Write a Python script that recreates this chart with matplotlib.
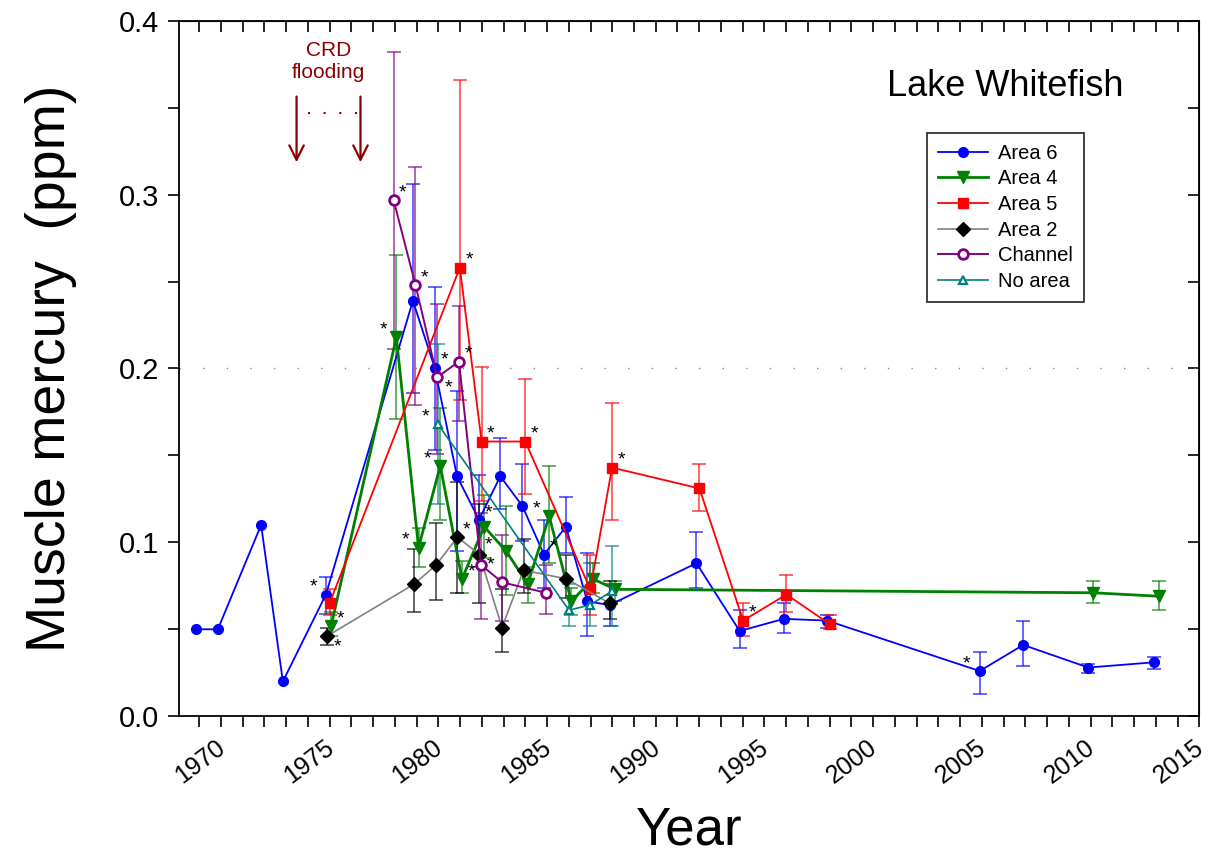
"""Lake Whitefish muscle mercury by area, 1969-2013."""
import numpy as np
import matplotlib
matplotlib.use("Agg")
import matplotlib.pyplot as plt
import matplotlib.transforms as mtransforms
from matplotlib.ticker import MultipleLocator, FormatStrFormatter

plt.rcParams["font.family"] = ["Liberation Sans", "DejaVu Sans"]

# ---- data (year, mean, lower bar end, upper bar end) ----
a6_year = [1968.84, 1969.86, 1971.85, 1972.85, 1974.83, 1978.83, 1979.83, 1980.86,
           1981.87, 1982.85, 1983.86, 1984.86, 1985.87, 1986.85, 1987.88, 1991.87,
           1993.86, 1995.89, 1997.88, 2004.90, 2006.90, 2009.89, 2012.91]
a6_val = [0.050, 0.050, 0.110, 0.020, 0.070, 0.239, 0.2005, 0.138,
          0.113, 0.138, 0.121, 0.093, 0.109, 0.066, 0.064, 0.088,
          0.049, 0.056, 0.055, 0.026, 0.041, 0.028, 0.031]
a6_lo = [np.nan, np.nan, np.nan, np.nan, 0.059, 0.186, 0.153, 0.095,
         0.086, 0.119, 0.101, 0.074, 0.094, 0.046, 0.052, 0.074,
         0.039, 0.048, 0.051, 0.013, 0.029, 0.025, 0.027]
a6_hi = [np.nan, np.nan, np.nan, np.nan, 0.080, 0.306, 0.247, 0.187,
         0.139, 0.160, 0.145, 0.113, 0.126, 0.094, 0.076, 0.106,
         0.061, 0.065, 0.058, 0.037, 0.055, 0.030, 0.034]
a6_star = {4: "l", 6: "r", 8: "r", 11: "r", 19: "l"}

a4_year = [1975.07, 1978.07, 1979.09, 1980.09, 1981.09, 1982.11, 1983.12, 1984.11,
           1985.10, 1986.12, 1987.10, 1988.14, 2010.12, 2013.14]
a4_val = [0.052, 0.218, 0.097, 0.144, 0.079, 0.109, 0.095, 0.076,
          0.115, 0.066, 0.079, 0.073, 0.071, 0.069]
a4_lo = [0.046, 0.171, 0.086, 0.113, 0.071, 0.091, 0.070, 0.065,
         0.088, 0.058, 0.071, 0.066, 0.065, 0.061]
a4_hi = [0.060, 0.265, 0.108, 0.177, 0.089, 0.127, 0.121, 0.086,
         0.144, 0.074, 0.088, 0.078, 0.078, 0.078]
a4_star = {0: "r", 1: "l", 2: "l", 3: "l", 4: "r", 8: "l"}

a5_year = [1975.00, 1980.99, 1981.99, 1984.00, 1986.99, 1987.99, 1992.01, 1994.02,
           1996.01, 1998.00]
a5_val = [0.065, 0.258, 0.158, 0.158, 0.073, 0.143, 0.131, 0.055, 0.070, 0.053]
a5_lo = [0.058, 0.182, 0.124, 0.128, 0.058, 0.113, 0.118, 0.046, 0.060, 0.050]
a5_hi = [0.073, 0.366, 0.201, 0.194, 0.093, 0.180, 0.145, 0.065, 0.081, 0.058]
a5_star = {1: "r", 2: "r", 3: "r", 5: "r", 7: "r"}

a2_year = [1974.87, 1978.89, 1979.90, 1980.88, 1981.89, 1982.93, 1983.92, 1985.89,
           1987.88]
a2_val = [0.046, 0.076, 0.087, 0.103, 0.093, 0.051, 0.084, 0.079, 0.065]
a2_lo = [0.041, 0.060, 0.067, 0.071, 0.065, 0.037, 0.071, 0.068, 0.056]
a2_hi = [0.051, 0.096, 0.111, 0.135, 0.122, 0.073, 0.102, 0.093, 0.078]
a2_star = {0: "rb", 3: "r", 4: "ru"}

ch_year = [1977.94, 1978.95, 1979.95, 1980.95, 1981.96, 1982.94, 1984.95]
ch_val = [0.297, 0.248, 0.195, 0.204, 0.087, 0.077, 0.071]
ch_lo = [0.211, 0.179, 0.151, 0.170, 0.056, 0.055, 0.059]
ch_hi = [0.382, 0.316, 0.237, 0.236, 0.117, 0.104, 0.087]
ch_star = {0: "r", 1: "r", 2: "rb", 3: "r", 4: "rm"}

na_year = [1979.98, 1986.01, 1986.99, 1987.99]
na_val = [0.168, 0.061, 0.064, 0.072]
na_lo = [0.122, 0.052, 0.052, 0.052]
na_hi = [0.214, 0.076, 0.088, 0.098]
na_star = {0: "l"}

series = [
    ("Area 6", a6_year, a6_val, a6_lo, a6_hi, a6_star,
     dict(color="#0000ff", marker="o", ms=7, lw=1.3, mfc="#0000ff", mec="#0000ff")),
    ("Area 4", a4_year, a4_val, a4_lo, a4_hi, a4_star,
     dict(color="#008000", marker="v", ms=9, lw=2.0, mfc="#008000", mec="#008000")),
    ("Area 5", a5_year, a5_val, a5_lo, a5_hi, a5_star,
     dict(color="#ff0000", marker="s", ms=7, lw=1.3, mfc="#ff0000", mec="#ff0000")),
    ("Area 2", a2_year, a2_val, a2_lo, a2_hi, a2_star,
     dict(color="#808080", marker="D", ms=7, lw=1.2, mfc="black", mec="black")),
    ("Channel", ch_year, ch_val, ch_lo, ch_hi, ch_star,
     dict(color="#800080", marker="o", ms=7, lw=1.4, mfc="white", mec="#800080", mew=2)),
    ("No area", na_year, na_val, na_lo, na_hi, na_star,
     dict(color="#008080", marker="^", ms=6, lw=1.2, mfc="white", mec="#008080", mew=1.6)),
]
BAR_COLOR = {"Area 6": "#0000ff", "Area 4": "#008000", "Area 5": "#ff0000",
             "Area 2": "black", "Channel": "#800080", "No area": "#008080"}
STAR_OFF = {"r": (4, 2), "l": (-12, 2), "rb": (5, -11), "ru": (4, 4), "rm": (4, -3)}

fig = plt.figure(figsize=(12.09, 8.65), dpi=100)
ax = fig.add_axes([0.148, 0.172, 0.844, 0.804])

ax.axhline(0.2, color="#888888", lw=1.0, ls=(0, (1, 16)), zorder=1)

for name, yr, v, lo, hi, stars, st in series:
    yr, v, lo, hi = map(np.asarray, (yr, v, lo, hi))
    m = np.isfinite(lo)
    ax.errorbar(yr[m], v[m], yerr=[v[m] - lo[m], hi[m] - v[m]], fmt="none",
                ecolor=BAR_COLOR[name], elinewidth=1.3, capsize=5, capthick=1.3,
                alpha=0.65, zorder=2)
    ax.plot(yr, v, label=name, zorder=3, **st)
    for i, pos in stars.items():
        ax.annotate("*", (yr[i], v[i]), xytext=STAR_OFF[pos],
                    textcoords="offset points", fontsize=14, color="black", zorder=4)

# CRD flooding marker
crd = "#8b0000"
ax.text(1974.95, 0.3765, "CRD\nflooding", color=crd, fontsize=15, ha="center",
        va="center", linespacing=1.15)
for xa in (1973.48, 1976.42):
    ax.annotate("", xy=(xa, 0.317), xytext=(xa, 0.358),
                arrowprops=dict(arrowstyle="->", color=crd, lw=1.6,
                                mutation_scale=26))
ax.plot([1974.0, 1976.42], [0.347, 0.347], color=crd, lw=1.5, ls=(0, (1, 6.5)))

ax.text(0.81, 0.905, "Lake Whitefish", transform=ax.transAxes, fontsize=26,
        ha="center", va="center")

ax.set_xlim(1968.07, 2015)
ax.set_ylim(0, 0.4)
ax.xaxis.set_major_locator(MultipleLocator(5))
ax.xaxis.set_minor_locator(MultipleLocator(1))
ax.yaxis.set_major_locator(MultipleLocator(0.1))
ax.yaxis.set_minor_locator(MultipleLocator(0.05))
ax.yaxis.set_major_formatter(FormatStrFormatter("%.1f"))
ax.tick_params(axis="both", which="both", direction="out", length=8, width=1.2,
               top=False, right=False)
ax.tick_params(axis="y", labelsize=21, pad=6)
ax.tick_params(axis="x", labelsize=18, pad=6)
shift = mtransforms.ScaledTranslation(-6 / 100, 0, fig.dpi_scale_trans)
for lab in ax.get_xticklabels():
    lab.set_rotation(37)
    lab.set_ha("right")
    lab.set_rotation_mode("anchor")
    lab.set_transform(lab.get_transform() + shift)

# inward ticks on top and right edges
sec_x = ax.secondary_xaxis("top")
sec_x.xaxis.set_major_locator(MultipleLocator(1))
sec_x.tick_params(direction="in", length=8, width=1.2, labeltop=False)
sec_y = ax.secondary_yaxis("right")
sec_y.yaxis.set_major_locator(MultipleLocator(0.05))
sec_y.tick_params(direction="in", length=8, width=1.2, labelright=False)

for s in ax.spines.values():
    s.set_linewidth(1.3)

ax.set_xlabel("Year", fontsize=38, labelpad=12)
ax.set_ylabel("Muscle mercury  (ppm)", fontsize=40, labelpad=30)

leg = ax.legend(loc="upper left", bbox_to_anchor=(0.733, 0.839), fontsize=14.5,
                frameon=True, fancybox=False, edgecolor="black", handlelength=2.5,
                borderpad=0.55, labelspacing=0.33, handletextpad=0.5,
                borderaxespad=0)
leg.get_frame().set_linewidth(1.3)

fig.savefig("out.png", dpi=100)
